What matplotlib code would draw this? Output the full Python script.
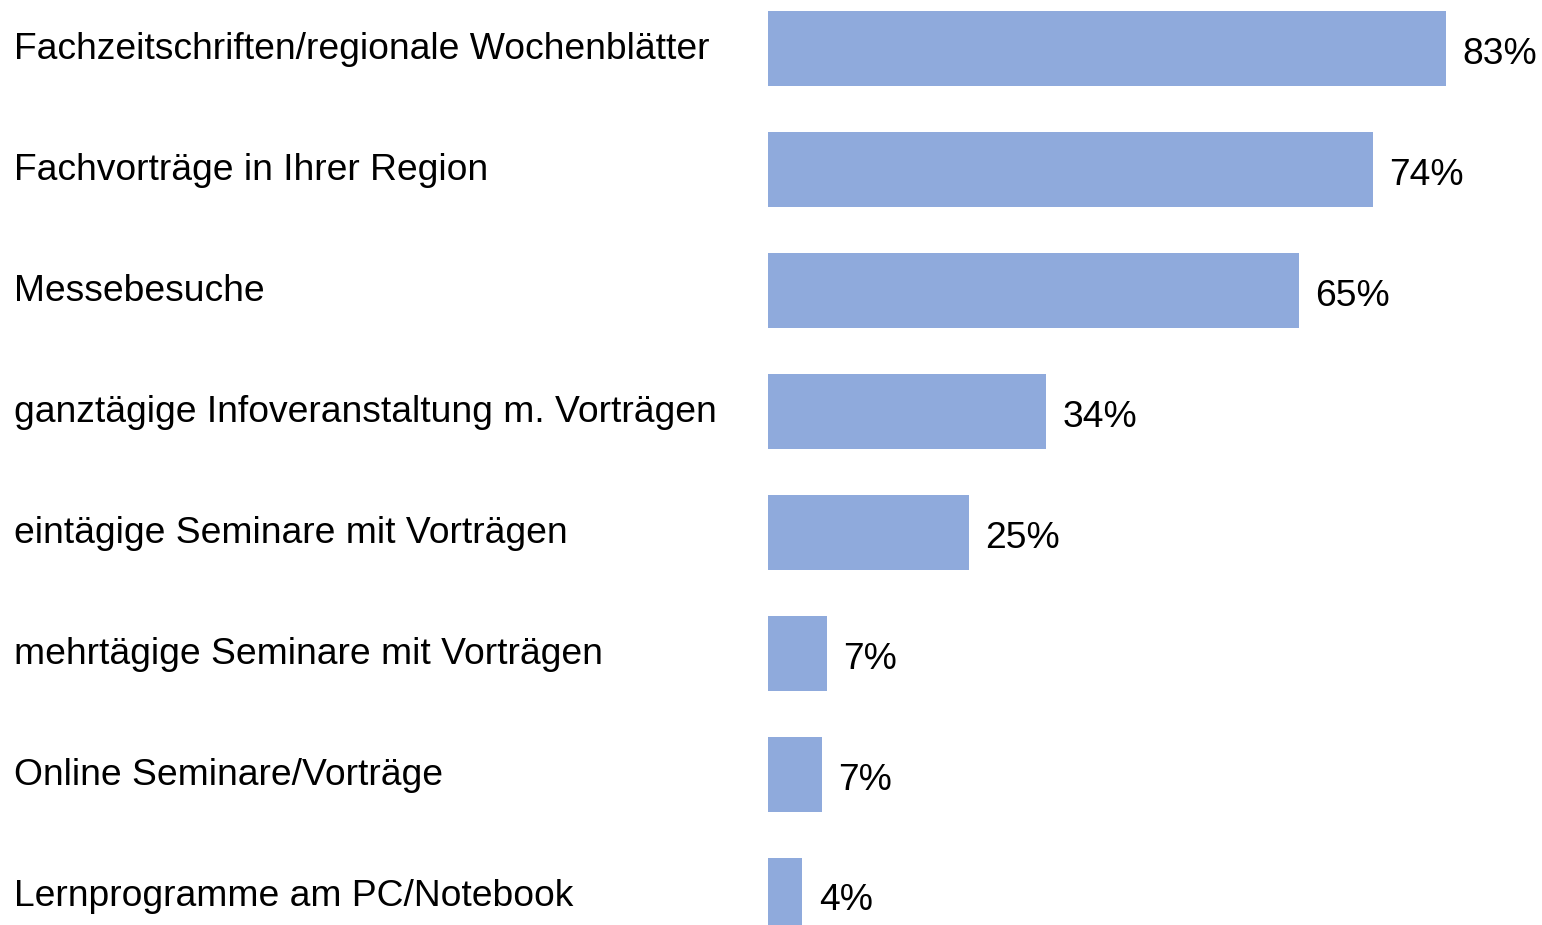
import matplotlib.pyplot as plt
import matplotlib.transforms as mtransforms

plt.rcParams['font.family'] = ['Liberation Sans', 'DejaVu Sans']

categories = [
    'Fachzeitschriften/regionale Wochenblätter',
    'Fachvorträge in Ihrer Region',
    'Messebesuche',
    'ganztägige Infoveranstaltung m. Vorträgen',
    'eintägige Seminare mit Vorträgen',
    'mehrtägige Seminare mit Vorträgen',
    'Online Seminare/Vorträge',
    'Lernprogramme am PC/Notebook',
]
values = [83, 74, 65, 34, 24.6, 7.2, 6.6, 4.2]
value_labels = ['83%', '74%', '65%', '34%', '25%', '7%', '7%', '4%']

fig = plt.figure(figsize=(15.42, 9.25), dpi=100)
ax = fig.add_axes([768 / 1542, 0, 1 - 768 / 1542, 1])

y = list(range(len(categories)))
ax.barh(y, values, height=0.62, color='#8FAADC')
ax.set_xlim(0, 94.7)
ax.set_ylim(7.244, -0.405)
ax.axis('off')

# category names sit at the left edge of the figure
trans = mtransforms.blended_transform_factory(fig.transFigure, ax.transData)
for i, name in enumerate(categories):
    ax.text(14 / 1542, i + 0.005, name, transform=trans, ha='left', va='center',
            fontsize=26.8, color='black')

for i, (v, lab) in enumerate(zip(values, value_labels)):
    ax.text(v + 2.0, i + 0.045, lab, ha='left', va='center', fontsize=26.8, color='black')

fig.savefig('out.png', dpi=100)
